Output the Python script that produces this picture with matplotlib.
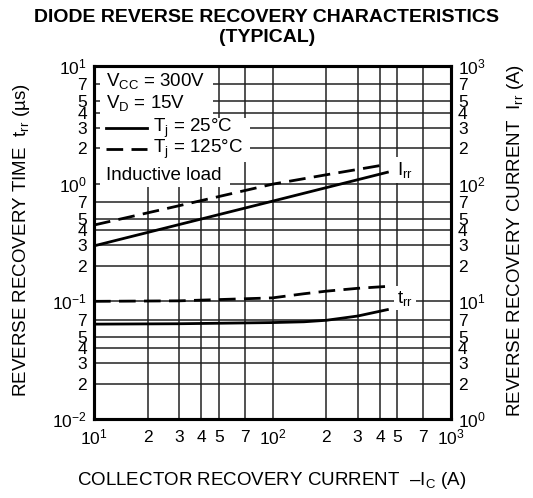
import matplotlib
matplotlib.use("Agg")
import matplotlib.pyplot as plt
from matplotlib.ticker import FixedLocator, FixedFormatter
from matplotlib.patches import Rectangle
from matplotlib.lines import Line2D

plt.rcParams['font.family'] = ['Liberation Sans', 'DejaVu Sans']
plt.rcParams['mathtext.fontset'] = 'custom'
plt.rcParams['mathtext.rm'] = 'Liberation Sans'
plt.rcParams['mathtext.it'] = 'Liberation Sans'
plt.rcParams['mathtext.default'] = 'regular'

# ---- data ----
ic_trr_25 = [10, 30, 100, 150, 200, 300, 440]
trr_25 = [0.064, 0.0645, 0.066, 0.067, 0.069, 0.075, 0.085]
ic_trr_125 = [10, 30, 100, 150, 200, 300, 440]
trr_125 = [0.100, 0.101, 0.107, 0.116, 0.122, 0.129, 0.134]
ic_irr_25 = [10, 100, 440]
irr_25 = [29.6, 71, 125]
ic_irr_125 = [10, 30, 100, 200, 440]
irr_125 = [44.5, 65, 99, 119, 146]

x_major = [10, 100, 1000]
x_major_labels = ['$10^{1}$', '$10^{2}$', '$10^{3}$']
x_minor = [20, 30, 40, 50, 70, 200, 300, 400, 500, 700]
x_minor_labels = ['2', '3', '4', '5', '7', '2', '3', '4', '5', '7']

yl_major = [0.01, 0.1, 1, 10]
yl_major_labels = ['$10^{-2}$', '$10^{-1}$', '$10^{0}$', '$10^{1}$']
yl_minor = [0.02, 0.03, 0.04, 0.05, 0.07, 0.2, 0.3, 0.4, 0.5, 0.7, 2, 3, 4, 5, 7]
yr_major = [1, 10, 100, 1000]
yr_major_labels = ['$10^{0}$', '$10^{1}$', '$10^{2}$', '$10^{3}$']
yr_minor = [2, 3, 4, 5, 7, 20, 30, 40, 50, 70, 200, 300, 400, 500, 700]
y_minor_labels = ['2', '3', '4', '5', '7'] * 3

FS = 13.5
TFS = 12.5
W, H = 533, 498
fig = plt.figure(figsize=(W / 100, H / 100), dpi=100)
L, R, T, B = 94, 451, 66, 419
ax = fig.add_axes([L / W, 1 - B / H, (R - L) / W, (B - T) / H])
ax.set_xscale('log')
ax.set_yscale('log')
ax.set_xlim(10, 1000)
ax.set_ylim(0.01, 10)

ax.xaxis.set_major_locator(FixedLocator(x_major))
ax.xaxis.set_major_formatter(FixedFormatter(x_major_labels))
ax.xaxis.set_minor_locator(FixedLocator(x_minor))
ax.xaxis.set_minor_formatter(FixedFormatter(x_minor_labels))
ax.yaxis.set_major_locator(FixedLocator(yl_major))
ax.yaxis.set_major_formatter(FixedFormatter(yl_major_labels))
ax.yaxis.set_minor_locator(FixedLocator(yl_minor))
ax.yaxis.set_minor_formatter(FixedFormatter(y_minor_labels))
ax.tick_params(which='both', length=0, labelsize=TFS)
ax.tick_params(axis='x', which='major', pad=6)
ax.tick_params(axis='x', which='minor', pad=8)
ax.tick_params(axis='y', which='both', pad=5)

ax.grid(which='both', color='#222222', linewidth=1.1)
for s in ax.spines.values():
    s.set_linewidth(2.2)
    s.set_zorder(6)

ax2 = ax.twinx()
ax2.set_yscale('log')
ax2.set_ylim(1, 1000)
ax2.yaxis.set_major_locator(FixedLocator(yr_major))
ax2.yaxis.set_major_formatter(FixedFormatter(yr_major_labels))
ax2.yaxis.set_minor_locator(FixedLocator(yr_minor))
ax2.yaxis.set_minor_formatter(FixedFormatter(y_minor_labels))
ax2.tick_params(which='both', length=0, labelsize=TFS, pad=5)
for s in ax2.spines.values():
    s.set_linewidth(2.2)

lw = 2.0
dash = (0, (6, 3))
ax.plot(ic_trr_25, trr_25, color='black', lw=lw, zorder=4)
ax.plot(ic_trr_125, trr_125, color='black', lw=lw, ls=dash, zorder=4)
ax2.plot(ic_irr_25, irr_25, color='black', lw=lw, zorder=4)
ax2.plot(ic_irr_125, irr_125, color='black', lw=lw, ls=dash, zorder=4)

# white background areas behind the condition text
def fx(px):
    return (px - L) / (R - L)

def fy(py):
    return (B - py) / (B - T)

for (x0, x1, y0, y1) in [(100, 213, 66, 118), (100, 250, 118, 162), (100, 230, 162, 187)]:
    ax.add_patch(Rectangle((fx(x0), fy(y1)), fx(x1) - fx(x0), fy(y0) - fy(y1),
                           transform=ax.transAxes, facecolor='white',
                           edgecolor='none', zorder=3))

tk = dict(transform=ax.transAxes, fontsize=FS, va='center', ha='left', zorder=5)
ax.text(fx(106), fy(81), 'V$_{CC}$ = 300V', **tk)
ax.text(fx(106), fy(103), 'V$_{D}$ = 15V', **tk)
ax.text(fx(153), fy(128), 'T$_{j}$ = 25°C', **tk)
ax.text(fx(153), fy(149), 'T$_{j}$ = 125°C', **tk)
ax.text(fx(106), fy(175), 'Inductive load', **tk)
ax.add_line(Line2D([fx(106), fx(147)], [fy(128), fy(128)], transform=ax.transAxes,
                   color='black', lw=lw, zorder=5))
ax.add_line(Line2D([fx(106), fx(147)], [fy(149), fy(149)], transform=ax.transAxes,
                   color='black', lw=lw, ls=dash, zorder=5))

bb = dict(facecolor='white', edgecolor='none', pad=2)
ax.text(fx(397), fy(170), 'I$_{rr}$', transform=ax.transAxes, fontsize=FS,
        va='center', ha='left', bbox=bb, zorder=5)
ax.text(fx(397), fy(298), 't$_{rr}$', transform=ax.transAxes, fontsize=FS,
        va='center', ha='left', bbox=bb, zorder=5)

fig.text(267 / W, 1 - 17 / H, 'DIODE REVERSE RECOVERY CHARACTERISTICS',
         fontsize=14, fontweight='bold', ha='center', va='center')
fig.text(267 / W, 1 - 37 / H, '(TYPICAL)',
         fontsize=14, fontweight='bold', ha='center', va='center')

fig.text(22 / W, 1 - 240 / H, 'REVERSE RECOVERY TIME  t$_{rr}$ (µs)',
         fontsize=FS, rotation=90, ha='center', va='center')
fig.text(516 / W, 1 - 240 / H, 'REVERSE RECOVERY CURRENT  I$_{rr}$ (A)',
         fontsize=FS, rotation=90, ha='center', va='center')
fig.text(272 / W, 1 - 480 / H, 'COLLECTOR RECOVERY CURRENT  \u2013I$_{C}$ (A)',
         fontsize=FS, ha='center', va='center')

fig.savefig('out.png', dpi=100)
